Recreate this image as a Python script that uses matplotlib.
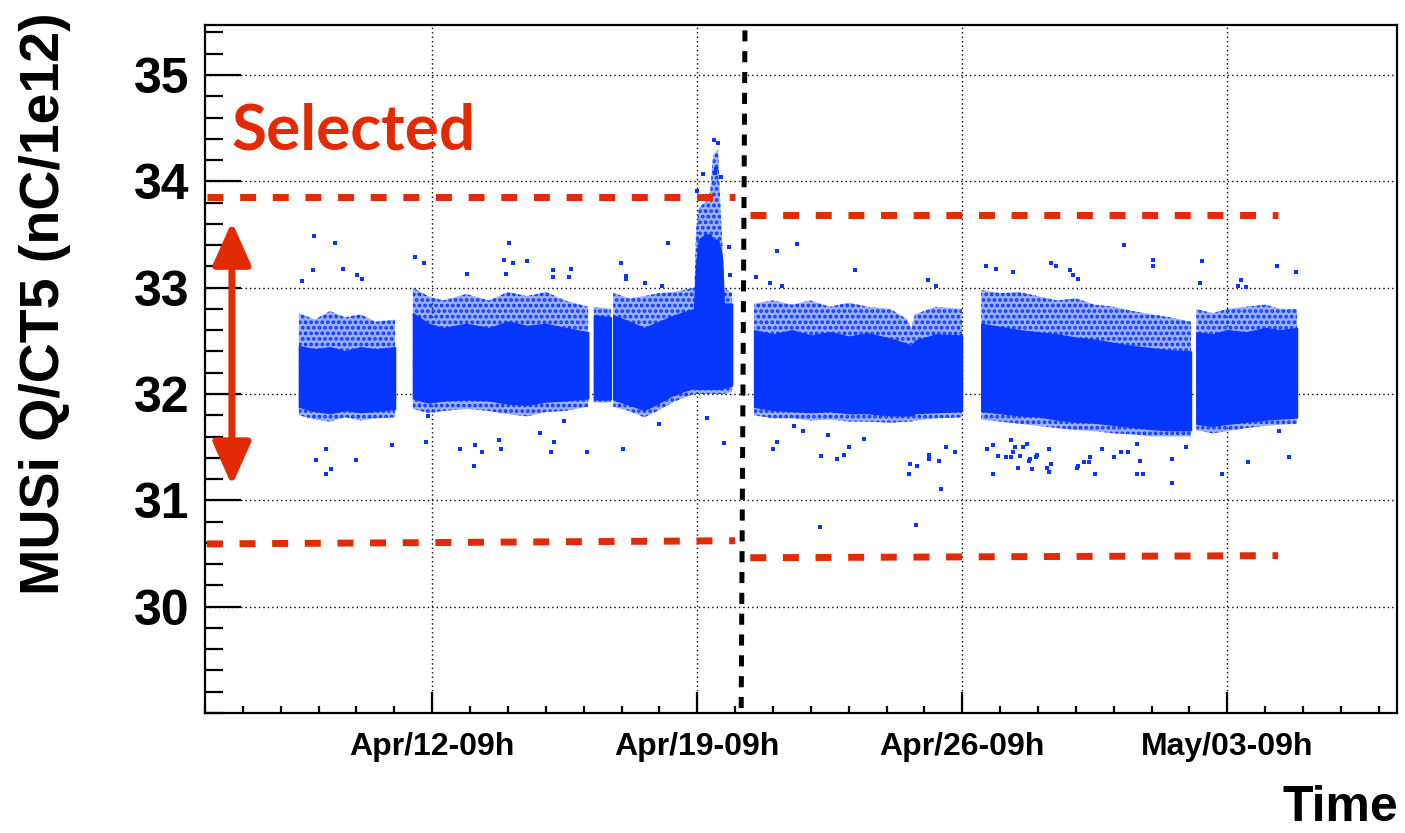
import matplotlib
matplotlib.use("Agg")
import matplotlib.pyplot as plt
from matplotlib.ticker import MultipleLocator, FixedLocator, FixedFormatter

# ---------------- data (x = days since Apr/06 09h) ----------------
x_range = [0.0, 31.48]
y_range = [29.0, 35.47]
tick_days = [6, 13, 20, 27]
tick_labels = ["Apr/12-09h", "Apr/19-09h", "Apr/26-09h", "May/03-09h"]
y_ticks = [30, 31, 32, 33, 34, 35]

# dense band of points for each run period: knots, core (solid) and halo (sparser) limits
seg_days = [
    [2.48, 2.9, 3.3, 3.7, 4.1, 4.5, 5.02],
    [5.49, 5.9, 6.3, 6.9, 7.5, 8.0, 8.5, 9.0, 9.5, 10.12],
    [10.27, 10.72],
    [10.78, 11.2, 11.6, 12.0, 12.4, 12.92],
    [12.92, 12.97, 13.04, 13.20, 13.34, 13.42, 13.55, 13.62, 13.66, 13.70, 13.92],
    [14.5, 15.0, 15.5, 16.0, 16.5, 17.0, 17.5, 18.1, 18.55, 18.65, 18.75, 19.3, 19.99],
    [20.5, 21.0, 21.5, 22.0, 22.5, 23.0, 23.5, 24.0, 24.5, 25.0, 25.5, 26.04],
    [26.18, 26.6, 27.0, 27.5, 28.0, 28.4, 28.84],
]
core_hi = [
    [32.45, 32.42, 32.44, 32.40, 32.44, 32.42, 32.44],
    [32.76, 32.66, 32.62, 32.66, 32.62, 32.68, 32.64, 32.66, 32.62, 32.58],
    [32.74, 32.72],
    [32.74, 32.68, 32.62, 32.68, 32.74, 32.80],
    [32.85, 33.20, 33.45, 33.50, 33.50, 33.45, 33.45, 33.35, 33.25, 32.85, 32.85],
    [32.60, 32.56, 32.60, 32.55, 32.58, 32.54, 32.57, 32.52, 32.47, 32.44, 32.50, 32.56, 32.55],
    [32.66, 32.63, 32.60, 32.58, 32.56, 32.53, 32.51, 32.48, 32.45, 32.43, 32.41, 32.40],
    [32.58, 32.56, 32.60, 32.58, 32.62, 32.60, 32.62],
]
core_lo = [
    [31.88, 31.84, 31.82, 31.85, 31.83, 31.84, 31.86],
    [31.96, 31.92, 31.94, 31.95, 31.94, 31.91, 31.90, 31.93, 31.94, 31.96],
    [31.95, 31.95],
    [31.95, 31.90, 31.85, 31.92, 32.00, 32.06],
    [32.06, 32.05, 32.05, 32.05, 32.05, 32.05, 32.05, 32.05, 32.05, 32.06, 32.08],
    [31.88, 31.85, 31.84, 31.83, 31.84, 31.82, 31.82, 31.80, 31.80, 31.80, 31.82, 31.83, 31.84],
    [31.84, 31.82, 31.80, 31.79, 31.76, 31.74, 31.73, 31.71, 31.69, 31.67, 31.66, 31.66],
    [31.72, 31.70, 31.72, 31.74, 31.76, 31.77, 31.78],
]
halo_hi = [
    [32.76, 32.70, 32.78, 32.72, 32.75, 32.68, 32.70],
    [33.00, 32.92, 32.88, 32.94, 32.88, 32.96, 32.92, 32.96, 32.88, 32.82],
    [32.82, 32.80],
    [32.95, 32.90, 32.92, 32.95, 32.96, 33.00],
    [32.95, 33.55, 33.75, 33.80, 33.90, 34.25, 34.30, 33.70, 33.45, 33.00, 32.95],
    [32.85, 32.88, 32.84, 32.88, 32.82, 32.86, 32.82, 32.80, 32.70, 32.62, 32.75, 32.82, 32.80],
    [32.98, 32.95, 32.96, 32.92, 32.88, 32.90, 32.84, 32.82, 32.78, 32.75, 32.72, 32.68],
    [32.80, 32.76, 32.80, 32.82, 32.84, 32.80, 32.80],
]
halo_lo = [
    [31.80, 31.76, 31.74, 31.78, 31.75, 31.77, 31.78],
    [31.86, 31.82, 31.84, 31.86, 31.84, 31.81, 31.79, 31.83, 31.84, 31.88],
    [31.92, 31.92],
    [31.88, 31.84, 31.78, 31.85, 31.93, 32.00],
    [32.00, 32.00, 32.00, 32.00, 32.00, 32.00, 32.00, 32.00, 32.00, 32.00, 32.02],
    [31.80, 31.77, 31.77, 31.75, 31.76, 31.74, 31.74, 31.73, 31.74, 31.74, 31.75, 31.77, 31.78],
    [31.76, 31.74, 31.72, 31.70, 31.68, 31.66, 31.65, 31.63, 31.62, 31.60, 31.60, 31.60],
    [31.66, 31.63, 31.65, 31.68, 31.70, 31.71, 31.72],
]

# isolated points outside the dense bands
out_days = [2.88, 3.43, 2.85, 3.64, 2.56, 4.01, 4.15, 5.55, 5.78, 8.03, 7.90, 6.92,
            4.94, 3.20, 2.93, 3.99, 3.33, 3.20, 5.84, 5.89, 6.73, 7.13, 7.32, 7.10, 7.76, 7.82,
            12.23, 8.50, 8.13, 7.95, 10.99, 11.12, 11.12, 9.19, 9.19, 9.67, 9.61, 11.62, 12.07,
            9.48, 8.85, 9.22, 9.14, 10.09, 11.04, 11.99, 13.26, 13.71,
            13.44, 13.55, 13.15, 12.99, 13.47, 13.84, 13.87, 13.63, 13.50,
            15.63, 15.11, 17.17, 14.55, 19.09, 14.92, 19.31, 15.24,
            15.56, 15.79, 16.45, 17.40, 15.11, 15.00, 17.01, 16.88, 16.27, 16.69, 19.12, 19.12,
            19.39, 19.57, 19.81, 18.62, 18.81, 18.59, 19.44, 16.24, 18.78,
            24.27, 25.04, 25.04, 20.63, 20.89, 21.34, 22.34, 22.48, 22.84, 22.92, 23.06, 26.33, 26.28,
            20.65, 20.81, 20.81, 20.94, 21.15, 21.29, 21.29, 21.39, 21.34, 21.52, 21.60, 21.71,
            21.47, 21.79, 21.76, 21.84, 21.97, 21.95, 22.29, 22.24, 22.29, 22.34, 23.03, 23.06,
            23.22, 23.35, 23.38, 23.51, 23.69, 24.01, 24.19, 24.38, 24.62, 24.70, 24.62, 24.78,
            25.54, 25.54, 25.91,
            28.31, 28.82, 27.36, 27.28, 27.50, 27.55, 28.63, 26.86, 28.37]
out_vals = [33.49, 33.42, 33.17, 33.18, 33.06, 33.12, 33.08, 33.29, 33.23, 33.42, 33.26, 33.13,
            31.52, 31.48, 31.38, 31.38, 31.29, 31.25, 31.55, 31.79, 31.48, 31.52, 31.45, 31.32, 31.57, 31.48,
            33.42, 33.25, 33.23, 33.13, 33.23, 33.11, 33.08, 33.17, 33.10, 33.18, 33.10, 33.04, 33.02,
            31.75, 31.63, 31.55, 31.45, 31.45, 31.48, 31.72, 31.77, 31.54,
            34.39, 34.36, 34.07, 33.91, 34.08, 33.38, 33.12, 34.04, 34.12,
            33.41, 33.34, 33.17, 33.10, 33.07, 33.04, 33.02, 33.02,
            31.70, 31.65, 31.61, 31.58, 31.55, 31.48, 31.50, 31.43, 31.42, 31.39, 31.43, 31.39,
            31.37, 31.50, 31.45, 31.34, 31.32, 31.25, 31.11, 30.75, 30.77,
            33.40, 33.26, 33.20, 33.20, 33.18, 33.15, 33.23, 33.20, 33.17, 33.12, 33.08, 33.25, 33.04,
            31.48, 31.52, 31.25, 31.42, 31.41, 31.41, 31.57, 31.50, 31.45, 31.42, 31.50, 31.53,
            31.30, 31.39, 31.37, 31.29, 31.43, 31.41, 31.48, 31.30, 31.27, 31.34, 31.30, 31.32,
            31.36, 31.36, 31.41, 31.25, 31.48, 31.41, 31.45, 31.45, 31.53, 31.37, 31.25, 31.25,
            31.39, 31.16, 31.50,
            33.20, 33.15, 33.07, 33.02, 33.01, 31.36, 31.41, 31.25, 31.65]

# selection cuts (dashed red lines)
cut_left_x = [0.05, 14.0]
cut_left_hi = [33.85, 33.85]
cut_left_lo = [30.59, 30.62]
cut_right_x = [14.4, 28.34]
cut_right_hi = [33.68, 33.68]
cut_right_lo = [30.46, 30.48]
split_x = [14.26, 14.16]
split_y = [35.42, 29.0]
arrow_x = 0.71
arrow_y = [31.14, 33.62]

# ---------------- drawing ----------------
BLUE = "#0636ff"
RED = "#e22a05"
plt.rcParams["lines.scale_dashes"] = False
plt.rcParams["hatch.linewidth"] = 1.8

fig = plt.figure(figsize=(14.05, 8.33), dpi=100)
ax = fig.add_axes([205 / 1405, 120 / 833, 1192 / 1405, 688 / 833])
ax.set_xlim(*x_range)
ax.set_ylim(*y_range)

for t, chi, clo, hhi, hlo in zip(seg_days, core_hi, core_lo, halo_hi, halo_lo):
    ax.fill_between(t, hlo, hhi, facecolor=BLUE, alpha=0.4, linewidth=0, zorder=2)
    ax.fill_between(t, hlo, hhi, facecolor="none", edgecolor=BLUE, hatch="...",
                    linewidth=0, zorder=2)
    ax.fill_between(t, clo, chi, facecolor=BLUE, edgecolor=BLUE, linewidth=1.0, zorder=3)

ax.plot(out_days, out_vals, linestyle="none", marker="s", markersize=2.8,
        color=BLUE, markeredgewidth=0, zorder=3)

for xs, ys in [(cut_left_x, cut_left_hi), (cut_left_x, cut_left_lo),
               (cut_right_x, cut_right_hi), (cut_right_x, cut_right_lo)]:
    ax.plot(xs, ys, color=RED, lw=5, dashes=(11.5, 12), zorder=5)
ax.plot(split_x, split_y, color="black", lw=3.6, dashes=(8, 7), zorder=5)

ax.annotate("", xy=(arrow_x, arrow_y[1]), xytext=(arrow_x, arrow_y[0]),
            arrowprops=dict(arrowstyle="<|-|>,head_length=1.3,head_width=0.58",
                            mutation_scale=20, lw=5, color=RED,
                            shrinkA=0, shrinkB=0), zorder=6)

# axes styling (ROOT-like)
for s in ax.spines.values():
    s.set_linewidth(1.6)
    s.set_color("black")
ax.grid(True, which="major", color="black", linestyle=(0, (1, 2.2)), linewidth=1.0)
ax.set_axisbelow(True)

ax.xaxis.set_major_locator(FixedLocator(tick_days))
ax.xaxis.set_major_formatter(FixedFormatter(tick_labels))
ax.xaxis.set_minor_locator(MultipleLocator(1))
ax.yaxis.set_major_locator(FixedLocator(y_ticks))
ax.yaxis.set_minor_locator(MultipleLocator(0.2))
ax.tick_params(axis="y", which="major", direction="in", length=26, width=1.6,
               labelsize=36, pad=11)
ax.tick_params(axis="y", which="minor", direction="in", length=13, width=1.6)
ax.tick_params(axis="x", which="major", direction="in", length=15, width=1.6,
               labelsize=23, pad=14)
ax.tick_params(axis="x", which="minor", direction="in", length=5, width=1.6)
for lab in ax.get_xticklabels() + ax.get_yticklabels():
    lab.set_fontfamily("Liberation Sans")
    lab.set_fontweight("bold")

fig.text(0.032, 1 - 304 / 833, "MUSi Q/CT5 (nC/1e12)", rotation=90, ha="center",
         va="center", fontsize=40, fontweight="bold", family="Liberation Sans")
fig.text(1398 / 1405, 1 - 821 / 833, "Time", ha="right", va="baseline",
         fontsize=36, fontweight="bold", family="Liberation Sans")
fig.text(232 / 1405, 1 - 150 / 833, "Selected", ha="left", va="baseline",
         fontsize=46, fontweight="bold", family="Lato", color=RED)

fig.savefig("out.png", dpi=100)
